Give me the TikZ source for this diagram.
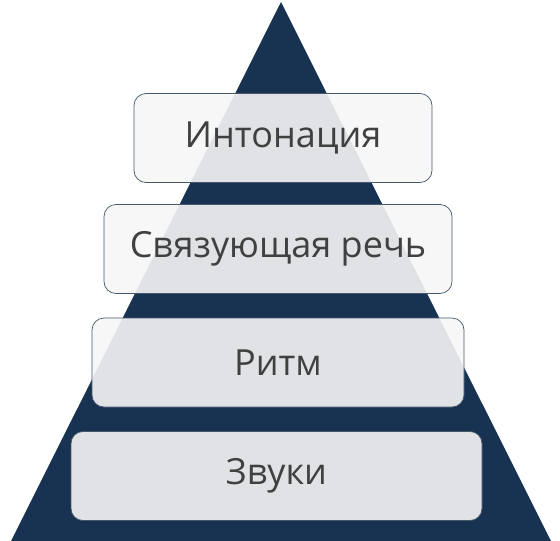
\documentclass[tikz,border=0pt]{standalone}
\usepackage{fontspec}
\usepackage{tikz}
\usepackage{xcolor}
\setmainfont{Open Sans}
\usetikzlibrary{positioning}

\definecolor{pyrnavy}{RGB}{24,50,82}
\definecolor{pyrtext}{RGB}{64,64,64}
\definecolor{pyrline}{RGB}{70,88,110}

\begin{document}
\begin{tikzpicture}[x=1pt, y=-1pt,
    level/.style={rectangle, rounded corners=12pt, draw=pyrline, line width=0.7pt,
      fill=gray!7, fill opacity=0.9, text opacity=1, text=pyrtext,
      minimum height=89pt, inner sep=0pt, font=\fontsize{36}{40}\selectfont}]
        \useasboundingbox (0,0) rectangle (560,541);

        % Pyramid
        \fill[pyrnavy] (281,2) -- (551,541) -- (11,541) -- cycle;

        % Levels, top to bottom
        \foreach \n/\x/\y/\w/\txt in {1/283/138/298/Интонация, 2/278/249/348/Связующая речь, 3/278/362.5/372/Ритм, 4/276.5/476/411/Звуки} {
          \node[level, minimum width=\w pt] (L\n) at (\x, \y) {\txt};
        }
    \end{tikzpicture}
\end{document}
